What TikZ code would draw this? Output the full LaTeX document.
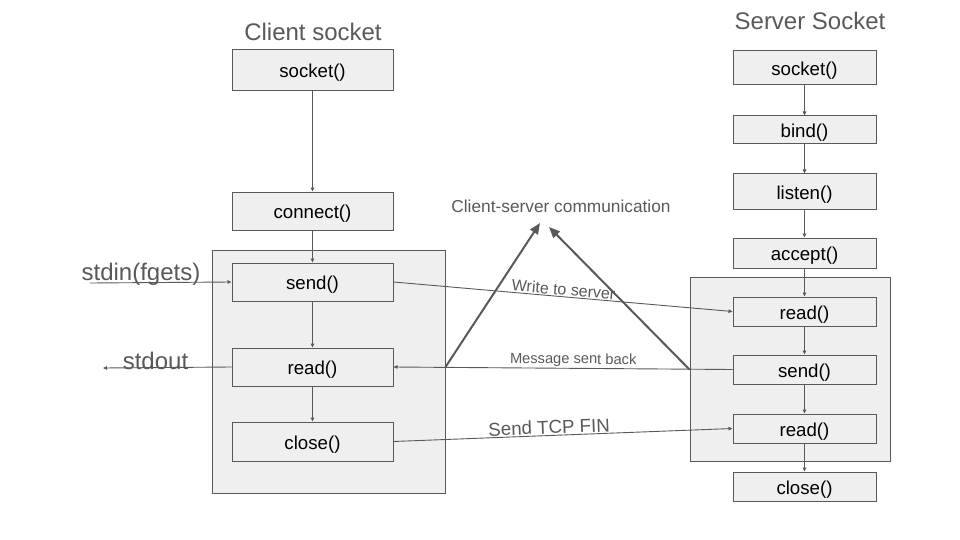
\documentclass[tikz,border=0pt]{standalone}
\usepackage{fontspec}
\setmainfont{Liberation Sans}
\usetikzlibrary{arrows.meta}
\definecolor{linegray}{HTML}{595959}
\definecolor{boxgray}{HTML}{EFEFEF}
\newcommand{\fsz}[1]{\fontsize{#1}{#1}\selectfont}

\begin{document}
\begin{tikzpicture}[x=1pt,y=-1pt,
    box/.style={draw=linegray,fill=boxgray,line width=1pt,inner sep=0pt,
      minimum width=161pt,minimum height=38pt,font=\fsz{18.67},
      text height=15pt,text depth=0pt},
    sbox/.style={box,minimum width=143pt,minimum height=29pt},
    frame/.style={draw=linegray,fill=boxgray,line width=1pt,inner sep=0pt},
    title/.style={text=linegray,inner sep=0pt,font=\fsz{24}},
    flow/.style={draw=linegray,line width=0.9pt,-{Triangle[length=4pt,width=3.5pt]}},
    msg/.style={text=linegray,inner sep=1pt,sloped,above},
    big/.style={draw=linegray,line width=2pt,-{Triangle[length=11pt,width=9pt]}}]
  \useasboundingbox (0,0) rectangle (960,540);
  \node[frame,minimum width=233pt,minimum height=243pt] (cframe) at (328.5,371.5) {};
  \node[frame,minimum width=200pt,minimum height=184pt] (sframe) at (790,369) {};

  \node[title] (ctitle) at (313,32) {Client socket};
  \node[box,minimum height=41pt] (csock) at (312.5,70.5) {socket()};
  \node[box] (cconn) at (312.5,211) {connect()};
  \node[box] (csend) at (312.5,282) {send()};
  \node[box] (cread) at (312.5,367) {read()};
  \node[box,minimum height=39pt] (cclose) at (312.5,441.5) {close()};

  \node[title] (stitle) at (810,21) {Server Socket};
  \node[sbox,minimum height=34pt] (ssock) at (804.5,68) {socket()};
  \node[sbox,minimum height=28pt] (sbind) at (804.5,130) {bind()};
  \node[sbox,minimum height=35pt] (slisten) at (804.5,191.5) {listen()};
  \node[sbox,minimum height=30pt] (saccept) at (804.5,253) {accept()};
  \node[sbox] (sread) at (804.5,311.5) {read()};
  \node[sbox] (ssend) at (804.5,369.5) {send()};
  \node[sbox] (sreadb) at (804.5,428.5) {read()};
  \node[sbox] (sclose) at (804.5,486.5) {close()};

  \draw[flow] (csock) -- (cconn);
  \draw[flow] (cconn) -- (csend);
  \draw[flow] (csend) -- (cread);
  \draw[flow] (cread) -- (cclose);

  \draw[flow] (ssock) -- (sbind);
  \draw[flow] (sbind) -- (slisten);
  \draw[flow] (slisten) -- (saccept);
  \draw[flow] (saccept) -- (sread);
  \draw[flow] (sread) -- (ssend);
  \draw[flow] (ssend) -- (sreadb);
  \draw[flow] (sreadb) -- (sclose);

  \node[title] (stdin) at (141,274) {stdin(fgets)};
  \coordinate (inpt) at (90,283);
  \draw[flow] (inpt) -- (csend.west);
  \node[title] (stdout) at (155.5,361) {stdout};
  \coordinate (outpt) at (103,368);
  \draw[flow] (cread.west) -- (outpt);

  \draw[flow] (csend.east) -- node[msg,pos=0.5,font=\fsz{16}] {Write to server} (sread.west);
  \draw[flow] (ssend.west) -- node[msg,pos=0.47,font=\fsz{14.67}] {Message sent back} (cread.east);
  \draw[flow] (cclose.east) -- node[msg,pos=0.46,font=\fsz{18.67}] {Send TCP FIN} (sreadb.west);

  \node[text=linegray,font=\fsz{17.3}] (comm) at (561,206) {Client-server communication};
  \coordinate (tipl) at (540,223);
  \coordinate (tipr) at (549,227);
  \draw[big] (cframe.east |- cread) -- (tipl);
  \draw[big] (sframe.west |- ssend) -- (tipr);
\end{tikzpicture}
\end{document}
